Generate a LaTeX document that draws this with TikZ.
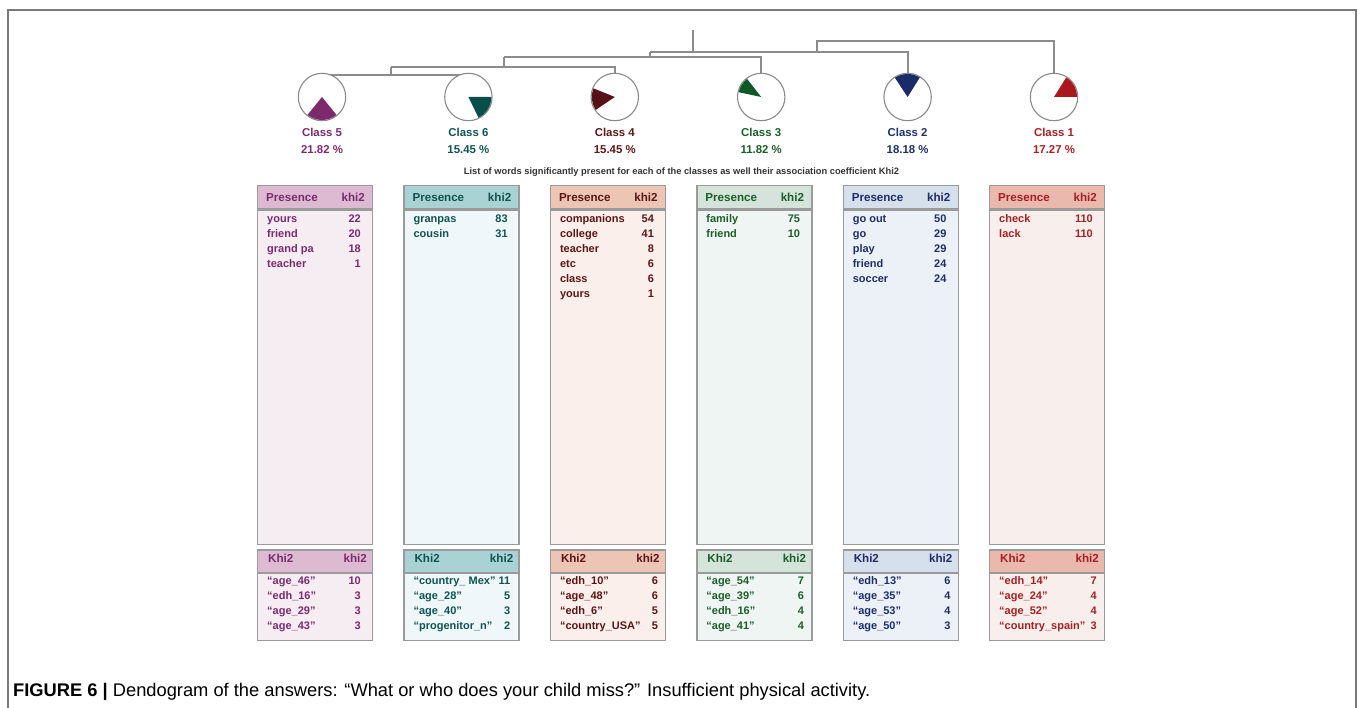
\documentclass[tikz,border=0pt]{standalone}
\usepackage{fontspec}
\setmainfont{Liberation Sans}
\usepackage{graphicx}
\definecolor{dgrey}{HTML}{8C8C8C}
\definecolor{fgrey}{HTML}{7A7A7A}
\definecolor{bgrey}{HTML}{9A9A9A}
\definecolor{cgrey}{HTML}{8A8A8A}
\definecolor{ltext}{HTML}{333333}
\definecolor{col5}{HTML}{7A2B6E}\definecolor{hd5}{HTML}{DDB9D2}\definecolor{bd5}{HTML}{F6EDF3}\definecolor{pie5}{HTML}{7C2A6C}
\definecolor{col6}{HTML}{0E5452}\definecolor{hd6}{HTML}{A9D2D5}\definecolor{bd6}{HTML}{F0F7FA}\definecolor{pie6}{HTML}{0A4E4C}
\definecolor{col4}{HTML}{5C1616}\definecolor{hd4}{HTML}{ECC5B5}\definecolor{bd4}{HTML}{FAEFEA}\definecolor{pie4}{HTML}{561016}
\definecolor{col3}{HTML}{1C5E2A}\definecolor{hd3}{HTML}{D4E4DA}\definecolor{bd3}{HTML}{EFF5F2}\definecolor{pie3}{HTML}{0E5A27}
\definecolor{col2}{HTML}{1F2E69}\definecolor{hd2}{HTML}{D6DFEC}\definecolor{bd2}{HTML}{ECF1F7}\definecolor{pie2}{HTML}{1B2B69}
\definecolor{col1}{HTML}{A42023}\definecolor{hd1}{HTML}{EBB8AE}\definecolor{bd1}{HTML}{F8EFEC}\definecolor{pie1}{HTML}{A9181D}
\tikzset{
  dend/.style={draw=dgrey, line width=2pt},
  piec/.style={circle, draw=cgrey, fill=white, line width=1.1pt, minimum size=47.4pt, inner sep=0pt},
  boxnode/.style={rectangle, draw=bgrey, line width=1.3pt, minimum width=115pt, inner sep=0pt, anchor=north west},
  hfont/.style={font=\fontsize{11.6}{13}\selectfont\bfseries, inner sep=0pt},
  rfont/.style={font=\fontsize{11}{12}\selectfont\bfseries, inner sep=0pt},
  clab/.style={font=\fontsize{11.4}{13}\selectfont\bfseries, inner sep=0pt, anchor=base},
}
\newcommand\classcol[6]{%
  \node[boxnode, fill=hd#2, minimum height=23pt] (h#2) at (#1,-185) {};
  \node[boxnode, fill=bd#2, minimum height=334.5pt] (b#2) at (h#2.south west) {};
  \node[hfont, text=col#2, anchor=base west] (hp#2) at ({#1+9},-201.4) {Presence};
  \node[hfont, text=col#2, anchor=base east] (hk#2) at ({#1+108},-201.4) {khi2};
  \foreach \w/\n [count=\k] in {#3} {
    \node[rfont, text=col#2, anchor=base west] (w#2-\k) at ({#1+10},{-222.3-15*(\k-1)}) {\w};
    \node[rfont, text=col#2, anchor=base east] (n#2-\k) at ({#1+115-#5},{-222.3-15*(\k-1)}) {\n};
  }
  \node[boxnode, fill=hd#2, minimum height=22.4pt] (kh#2) at (#1,-549.3) {};
  \node[boxnode, fill=bd#2, minimum height=66.6pt] (kb#2) at (kh#2.south west) {};
  \node[hfont, text=col#2, anchor=base west] (kk#2) at ({#1+11},-562.4) {Khi2};
  \node[hfont, text=col#2, anchor=base east] (kl#2) at ({#1+110},-562.4) {khi2};
  \foreach \w/\n [count=\k] in {#4} {
    \node[rfont, text=col#2, anchor=base west] (v#2-\k) at ({#1+10},{-584-15*(\k-1)}) {\w};
    \node[rfont, text=col#2, anchor=base east] (m#2-\k) at ({#1+115-#6},{-584-15*(\k-1)}) {\n};
  }
}
\begin{document}
\begin{tikzpicture}[x=1pt,y=1pt]
\useasboundingbox (0,0) rectangle (1362,-708);
% frame
\draw[fgrey, line width=1.6pt] (8,-708) -- (8,-10) -- (1356,-10) -- (1356,-708);
% circle centres
\coordinate (p5) at (322,-97);
\coordinate (p6) at (468.4,-97);
\coordinate (p4) at (614.8,-97);
\coordinate (p3) at (761.2,-97);
\coordinate (p2) at (907.6,-97);
\coordinate (p1) at (1054,-97);
% dendrogram
\coordinate (root) at (692.7,-30);
\coordinate (jA) at (692.7,-51.7);
\coordinate (jB) at (650,-51.7);
\coordinate (jR) at (816.7,-51.7);
\coordinate (jR2) at (816.7,-40.7);
\coordinate (jC) at (504,-57.3);
\coordinate (jD) at (391,-66.7);
\coordinate (jE) at (391,-75);
\draw[dend] (root) -- (jA);
\draw[dend] (jB) -| (p2);
\draw[dend] (jR) -- (jR2) -| (p1);
\draw[dend] (jB) -- (jB |- jC);
\draw[dend] (jC) -| (p3);
\draw[dend] (jC) -- (jC |- jD);
\draw[dend] (jD) -| (p4);
\draw[dend] (jD) -- (jE);
\draw[dend] (p5 |- jE) -- (p6 |- jE) -- (p6);
% circles and wedges
\foreach \i in {5,6,4,3,2,1} { \node[piec] (c\i) at (p\i) {}; }
\fill[pie5] (c5.center) -- ++(231:23pt) arc[start angle=231, end angle=309, radius=23pt] -- cycle;
\fill[pie6] (c6.center) -- ++(-64:23pt) arc[start angle=-64, end angle=0, radius=23pt] -- cycle;
\fill[pie4] (c4.center) -- ++(158:23pt) arc[start angle=158, end angle=214, radius=23pt] -- cycle;
\fill[pie3] (c3.center) -- ++(128:23pt) arc[start angle=128, end angle=168, radius=23pt] -- cycle;
\fill[pie2] (c2.center) -- ++(58:23pt) arc[start angle=58, end angle=123.5, radius=23pt] -- cycle;
\fill[pie1] (c1.center) -- ++(0:23pt) arc[start angle=0, end angle=58, radius=23pt] -- cycle;
% class labels
\node[clab, text=col5] (l5) at (322,-137) {Class 5};
\node[clab, text=col5] (q5) at (322,-154) {21.82 \%};
\node[clab, text=col6] (l6) at (468.4,-137) {Class 6};
\node[clab, text=col6] (q6) at (468.4,-154) {15.45 \%};
\node[clab, text=col4] (l4) at (614.8,-137) {Class 4};
\node[clab, text=col4] (q4) at (614.8,-154) {15.45 \%};
\node[clab, text=col3] (l3) at (761.2,-137) {Class 3};
\node[clab, text=col3] (q3) at (761.2,-154) {11.82 \%};
\node[clab, text=col2] (l2) at (907.6,-137) {Class 2};
\node[clab, text=col2] (q2) at (907.6,-154) {18.18 \%};
\node[clab, text=col1] (l1) at (1054,-137) {Class 1};
\node[clab, text=col1] (q1) at (1054,-154) {17.27 \%};
\node[font=\fontsize{9.3}{11}\selectfont\bfseries, text=ltext, inner sep=0pt, anchor=base] (list) at (681.5,-174.3) {List of words significantly present for each of the classes as well their association coefficient Khi2};
% columns
\classcol{257}{5}{yours/22, friend/20, grand pa/18, teacher/1}{“age\_46”/10, “edh\_16”/3, “age\_29”/3, “age\_43”/3}{11}{11}
\classcol{403.4}{6}{granpas/83, cousin/31}{“country\_ Mex”/11, “age\_28”/5, “age\_40”/3, “progenitor\_n”/2}{10.5}{8}
\classcol{549.8}{4}{companions/54, college/41, teacher/8, etc/6, class/6, yours/1}{“edh\_10”/6, “age\_48”/6, “edh\_6”/5, “country\_USA”/5}{10.7}{6.5}
\classcol{696.2}{3}{family/75, friend/10}{“age\_54”/7, “age\_39”/6, “edh\_16”/4, “age\_41”/4}{11}{7}
\classcol{842.6}{2}{go out/50, go/29, play/29, friend/24, soccer/24}{“edh\_13”/6, “age\_35”/4, “age\_53”/4, “age\_50”/3}{11}{7}
\classcol{989}{1}{check/110, lack/110}{“edh\_14”/7, “age\_24”/4, “age\_52”/4, “country\_spain”/3}{11}{7}
% caption
\node[font=\fontsize{18.3}{20}\selectfont, inner sep=0pt, anchor=base west] (cap) at (13,-696) {\textbf{FIGURE 6 |} Dendogram of the answers: “What or who does your child miss?” Insufficient physical activity.};
\end{tikzpicture}
\end{document}
